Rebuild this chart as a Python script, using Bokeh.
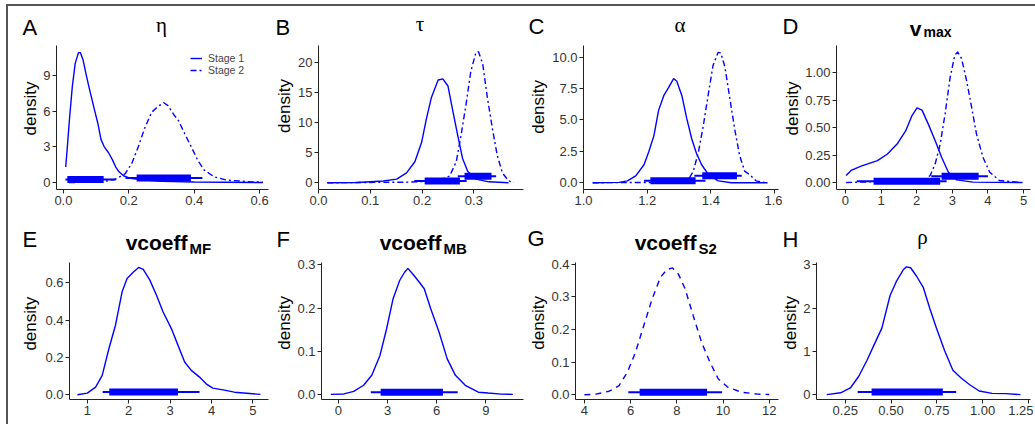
import math
from bokeh.plotting import figure
from bokeh.models import Range1d, FixedTicker, Legend, LegendItem, Div, Spacer
from bokeh.layouts import row, column
from bokeh.embed import file_html
from bokeh.resources import INLINE
from bokeh.core.properties import value

# ---------------- data ----------------
# A: eta
eta_s1_x = [0.007, 0.012, 0.019, 0.027, 0.036, 0.046, 0.052, 0.060, 0.070, 0.080, 0.095, 0.105, 0.115, 0.125,
            0.138, 0.150, 0.160, 0.170, 0.185, 0.205, 0.24, 0.30, 0.40, 0.50, 0.61]
eta_s1_y = [1.3, 3.0, 5.5, 8.0, 10.0, 10.9, 10.9, 10.3, 9.0, 7.8, 6.1, 5.0, 3.6, 3.0,
            2.5, 1.9, 1.3, 0.9, 0.55, 0.35, 0.22, 0.1, 0.04, 0.02, 0.0]
eta_s2_x = [0.017, 0.118, 0.159, 0.189, 0.209, 0.229, 0.249, 0.270, 0.290, 0.307, 0.320, 0.340, 0.350,
            0.371, 0.391, 0.411, 0.431, 0.462, 0.50, 0.573, 0.61]
eta_s2_y = [0.0, 0.05, 0.28, 0.75, 1.6, 3.0, 4.6, 5.9, 6.4, 6.7, 6.45, 5.6, 5.3,
            4.1, 3.0, 1.86, 1.03, 0.47, 0.2, 0.06, 0.03]
# B: tau
tau_s1_x = [0.017, 0.075, 0.125, 0.151, 0.170, 0.186, 0.199, 0.208, 0.218, 0.231, 0.240, 0.250, 0.259,
            0.269, 0.278, 0.288, 0.304, 0.329, 0.367]
tau_s1_y = [0.0, 0.05, 0.3, 0.6, 1.65, 3.5, 6.7, 10.5, 14.2, 17.1, 17.3, 16.1, 12.1,
            7.8, 4.1, 1.9, 0.6, 0.16, 0.0]
tau_s2_x = [0.017, 0.17, 0.227, 0.253, 0.266, 0.275, 0.285, 0.294, 0.304, 0.309, 0.317, 0.326, 0.336,
            0.345, 0.355, 0.367, 0.377]
tau_s2_y = [0.0, 0.1, 0.3, 1.1, 3.5, 7.8, 13.1, 18.5, 21.7, 21.8, 19.8, 14.2, 8.9,
            4.6, 1.66, 0.32, 0.05]
# C: alpha
alpha_s1_x = [1.029, 1.112, 1.138, 1.164, 1.19, 1.205, 1.221, 1.236, 1.252, 1.267, 1.283, 1.293, 1.309,
              1.324, 1.340, 1.355, 1.371, 1.392, 1.423, 1.464, 1.578]
alpha_s1_y = [0.0, 0.03, 0.15, 0.54, 1.43, 2.46, 3.73, 5.78, 6.93, 7.57, 8.29, 8.08, 6.93,
              5.14, 3.48, 2.33, 1.43, 0.66, 0.15, 0.0, 0.0]
alpha_s2_x = [1.029, 1.30, 1.33, 1.345, 1.361, 1.376, 1.392, 1.407, 1.423, 1.431, 1.444, 1.459, 1.475,
              1.49, 1.506, 1.521, 1.542, 1.568]
alpha_s2_y = [0.0, 0.03, 0.28, 0.92, 2.46, 4.5, 7.06, 9.36, 10.38, 10.33, 9.23, 6.8, 4.25,
              2.2, 0.92, 0.66, 0.15, 0.03]
# D: v_max
vmax_s1_x = [0.02, 0.16, 0.44, 0.90, 1.18, 1.45, 1.69, 1.87, 2.01, 2.15, 2.33, 2.52, 2.70,
             2.89, 3.12, 3.58, 4.97]
vmax_s1_y = [0.064, 0.11, 0.149, 0.2, 0.26, 0.35, 0.47, 0.61, 0.68, 0.66, 0.53, 0.38, 0.23,
             0.094, 0.024, 0.003, 0.0]
vmax_s2_x = [0.02, 2.19, 2.38, 2.52, 2.66, 2.80, 2.94, 3.07, 3.15, 3.26, 3.40, 3.54, 3.68,
             3.86, 4.05, 4.32, 4.93]
vmax_s2_y = [0.0, 0.018, 0.064, 0.17, 0.35, 0.63, 0.96, 1.16, 1.19, 1.13, 0.93, 0.69, 0.44,
             0.23, 0.094, 0.018, 0.0]
# E: vcoeff_MF
vmf_x = [0.76, 1.0, 1.2, 1.36, 1.52, 1.68, 1.84, 1.96, 2.12, 2.24, 2.35, 2.51, 2.67, 2.83, 3.03,
         3.19, 3.35, 3.51, 3.71, 3.87, 4.03, 4.31, 4.55, 5.18]
vmf_y = [0.0, 0.009, 0.041, 0.104, 0.247, 0.373, 0.552, 0.624, 0.66, 0.683, 0.672, 0.615, 0.534,
         0.444, 0.355, 0.265, 0.176, 0.131, 0.095, 0.059, 0.036, 0.025, 0.014, 0.002]
# F: vcoeff_MB
vmb_x = [-0.46, 0.34, 0.94, 1.54, 2.04, 2.54, 2.94, 3.34, 3.74, 4.04, 4.24, 4.54, 4.94, 5.24,
         5.64, 6.14, 6.64, 7.14, 7.74, 8.54, 9.14, 9.94, 10.64]
vmb_y = [0.001, 0.002, 0.008, 0.022, 0.045, 0.091, 0.152, 0.222, 0.264, 0.283, 0.292, 0.279, 0.26,
         0.245, 0.198, 0.145, 0.083, 0.045, 0.022, 0.006, 0.004, 0.0015, 0.001]
# G: vcoeff_S2
vs2_x = [4.0, 4.5, 5.07, 5.5, 5.86, 6.21, 6.57, 6.93, 7.29, 7.57, 7.81, 8.07, 8.36, 8.71,
         9.07, 9.43, 9.79, 10.21, 10.79, 11.5, 12.0]
vs2_y = [0.0, 0.002, 0.011, 0.028, 0.069, 0.13, 0.212, 0.293, 0.359, 0.383, 0.388, 0.369, 0.324,
         0.242, 0.161, 0.1, 0.049, 0.023, 0.008, 0.002, 0.001]
# H: rho
rho_x = [0.149, 0.225, 0.278, 0.324, 0.369, 0.405, 0.450, 0.495, 0.531, 0.568, 0.585, 0.607, 0.639,
         0.676, 0.712, 0.748, 0.793, 0.838, 0.883, 0.928, 0.982, 1.052, 1.127, 1.207]
rho_y = [0.007, 0.05, 0.16, 0.43, 0.8, 1.13, 1.54, 2.29, 2.63, 2.89, 2.95, 2.93, 2.74,
         2.48, 1.99, 1.54, 1.02, 0.57, 0.39, 0.24, 0.09, 0.037, 0.03, 0.007]

# credible intervals: [thin_lo, thick_lo, thick_hi, thin_hi, level]
eta_s1_int = [0.006, 0.012, 0.123, 0.16, 0.25]
eta_s2_int = [0.19, 0.224, 0.39, 0.425, 0.38]
tau_s1_int = [0.185, 0.205, 0.273, 0.286, 0.3]
tau_s2_int = [0.269, 0.282, 0.334, 0.343, 1.1]
alpha_s1_int = [1.19, 1.21, 1.352, 1.383, 0.15]
alpha_s2_int = [1.348, 1.373, 1.482, 1.497, 0.55]
vmax_s1_int = [0.32, 0.79, 2.66, 2.84, 0.012]
vmax_s2_int = [2.41, 2.70, 3.74, 4.0, 0.057]
vmf_int = [1.37, 1.53, 3.19, 3.71, 0.015]
vmb_int = [1.98, 2.58, 6.38, 7.28, 0.006]
vs2_int = [5.9, 6.39, 9.31, 9.96, 0.008]
rho_int = [0.318, 0.394, 0.783, 0.856, 0.067]

# tick values and labels
eta_xt, eta_xl = [0, 0.2, 0.4, 0.6], ["0.0", "0.2", "0.4", "0.6"]
eta_yt, eta_yl = [0, 3, 6, 9], ["0", "3", "6", "9"]
tau_xt, tau_xl = [0, 0.1, 0.2, 0.3], ["0.0", "0.1", "0.2", "0.3"]
tau_yt, tau_yl = [0, 5, 10, 15, 20], ["0", "5", "10", "15", "20"]
alpha_xt, alpha_xl = [1.0, 1.2, 1.4, 1.6], ["1.0", "1.2", "1.4", "1.6"]
alpha_yt, alpha_yl = [0, 2.5, 5, 7.5, 10], ["0.0", "2.5", "5.0", "7.5", "10.0"]
vmax_xt, vmax_xl = [0, 1, 2, 3, 4, 5], ["0", "1", "2", "3", "4", "5"]
vmax_yt, vmax_yl = [0, 0.25, 0.5, 0.75, 1.0], ["0.00", "0.25", "0.50", "0.75", "1.00"]
vmf_xt, vmf_xl = [1, 2, 3, 4, 5], ["1", "2", "3", "4", "5"]
vmf_yt, vmf_yl = [0, 0.2, 0.4, 0.6], ["0.0", "0.2", "0.4", "0.6"]
vmb_xt, vmb_xl = [0, 3, 6, 9], ["0", "3", "6", "9"]
vmb_yt, vmb_yl = [0, 0.1, 0.2, 0.3], ["0.0", "0.1", "0.2", "0.3"]
vs2_xt, vs2_xl = [4, 6, 8, 10, 12], ["4", "6", "8", "10", "12"]
vs2_yt, vs2_yl = [0, 0.1, 0.2, 0.3, 0.4], ["0.0", "0.1", "0.2", "0.3", "0.4"]
rho_xt, rho_xl = [0.25, 0.5, 0.75, 1.0, 1.25], ["0.25", "0.50", "0.75", "1.00", "1.25"]
rho_yt, rho_yl = [0, 1, 2, 3], ["0", "1", "2", "3"]

legend_labels = ["Stage 1", "Stage 2"]
y_label = "density"

# ---------------- layout / style ----------------
BLUE = "#0000FF"
SANS = "Liberation Sans"
SERIF = "Liberation Serif"
# half of (ascent - descent), in em: distance from the middle of the text box to the baseline
MID_TO_BASE = {SANS: 0.3465, SERIF: 0.3375}
GX0, GX1 = 8, 1033
STRIPS = [(6, 39), (215, 256)]
ROWS = [(39, 215), (256, 424)]

# cell: (cell_left, vstrip_right, cell_right)
# sub titles: ("sub", main, subscript, junction_x, main_baseline, sub_baseline, sub_size)
specs = [
    dict(letter="A", cell=(8, 40, 272), rw=0, frame=(54, 268, 44, 189), xa=(0, 61, 330), ya=(182, 12),
         curves=[(eta_s1_x, eta_s1_y, "solid"), (eta_s2_x, eta_s2_y, "dotdash")],
         ints=[eta_s1_int, eta_s2_int], ticks=(eta_xt, eta_xl, eta_yt, eta_yl),
         title=("greek", "η", 32), lpos=(22, 35), dens=(30, 116), legend=True),
    dict(letter="B", cell=(272, 295, 526), rw=0, frame=(316, 523, 39, 189), xa=(0, 316, 523), ya=(182, 6.26),
         curves=[(tau_s1_x, tau_s1_y, "solid"), (tau_s2_x, tau_s2_y, "dotdash")],
         ints=[tau_s1_int, tau_s2_int], ticks=(tau_xt, tau_xl, tau_yt, tau_yl),
         title=("greek", "τ", 31), lpos=(275, 35), dens=(284, 113), legend=False),
    dict(letter="C", cell=(526, 549, 782), rw=0, frame=(581, 778, 40, 189), xa=(1.0, 581, 321.7), ya=(182, 13),
         curves=[(alpha_s1_x, alpha_s1_y, "solid"), (alpha_s2_x, alpha_s2_y, "dotdash")],
         ints=[alpha_s1_int, alpha_s2_int], ticks=(alpha_xt, alpha_xl, alpha_yt, alpha_yl),
         title=("greek", "α", 32), lpos=(528, 34), dens=(538, 114), legend=False),
    dict(letter="D", cell=(782, 802, 1033), rw=0, frame=(834, 1030, 45, 189), xa=(0, 843, 36), ya=(182, 109.7),
         curves=[(vmax_s1_x, vmax_s1_y, "solid"), (vmax_s2_x, vmax_s2_y, "dotdash")],
         ints=[vmax_s1_int, vmax_s2_int], ticks=(vmax_xt, vmax_xl, vmax_yt, vmax_yl),
         title=("sub", "v", "max", 921, 35, 36, 14), lpos=(782, 34), dens=(792, 116), legend=False),
    dict(letter="E", cell=(8, 42, 272), rw=1, frame=(67, 268, 262, 399), xa=(1, 85, 41.83), ya=(394.3, 186.5),
         curves=[(vmf_x, vmf_y, "solid")], ints=[vmf_int], ticks=(vmf_xt, vmf_xl, vmf_yt, vmf_yl),
         title=("sub", "vcoeff", "MF", 187, 249, 253, 15), lpos=(22, 247), dens=(30, 331), legend=False),
    dict(letter="F", cell=(272, 294, 526), rw=1, frame=(319, 523, 262, 399), xa=(0, 336, 16.56), ya=(394.3, 433),
         curves=[(vmb_x, vmb_y, "solid")], ints=[vmb_int], ticks=(vmb_xt, vmb_xl, vmb_yt, vmb_yl),
         title=("sub", "vcoeff", "MB", 441, 249, 253, 15), lpos=(276, 247), dens=(284, 330), legend=False),
    dict(letter="G", cell=(526, 548, 782), rw=1, frame=(573, 778, 262, 399), xa=(4, 582, 23.33), ya=(394.3, 327),
         curves=[(vs2_x, vs2_y, "dashed")], ints=[vs2_int], ticks=(vs2_xt, vs2_xl, vs2_yt, vs2_yl),
         title=("sub", "vcoeff", "S2", 696, 249, 253, 15), lpos=(527, 246), dens=(538, 330), legend=False),
    dict(letter="H", cell=(782, 800, 1033), rw=1, frame=(814, 1030, 258, 399), xa=(0.25, 843, 184.8),
         ya=(394.3, 44.67),
         curves=[(rho_x, rho_y, "solid")], ints=[rho_int], ticks=(rho_xt, rho_xl, rho_yt, rho_yl),
         title=("greek", "ρ", 244), lpos=(782, 247), dens=(790, 330), legend=False),
]

DASH = {"solid": "solid", "dotdash": "6 3 2 3", "dashed": "6 5"}


def text_fig(x0, x1, y0, y1):
    """A bare figure whose data coordinates are page pixels (y pointing down)."""
    s = figure(width=x1 - x0, height=y1 - y0, min_border=0,
               x_range=Range1d(x0, x1), y_range=Range1d(y1, y0),
               x_axis_location=None, y_axis_location=None, title_location=None,
               output_backend="svg", toolbar_location=None, tools="")
    s.grid.visible = False
    s.outline_line_color = None
    return s


def put(p, x, y, text, size, font=SANS, style="normal", align="left", base=True, angle=0.0):
    # base=True: y is the alphabetic baseline; converted to the middle of the text box
    yy = y - MID_TO_BASE[font] * size if base else y
    p.text(x=[x], y=[yy], text=[text], text_font=value(font), text_font_size=value(f"{size}px"),
           text_font_style=value(style), text_align=value(align), text_baseline=value("middle"),
           angle=angle, text_color="black")


def build(s):
    fl, fr, ft, fb = s["frame"]
    cl, vr, cr = s["cell"]
    rt, rb = ROWS[s["rw"]]
    xv, xp, xppu = s["xa"]
    yp, yppu = s["ya"]
    p = figure(width=cr - vr, height=rb - rt,
               min_border_left=fl - vr, min_border_right=cr - fr,
               min_border_top=ft - rt, min_border_bottom=rb - fb,
               x_range=Range1d(xv - (xp - fl) / xppu, xv + (fr - xp) / xppu),
               y_range=Range1d(-(fb - yp) / yppu, (yp - ft) / yppu),
               title_location=None,
               output_backend="svg", toolbar_location=None, tools="")
    p.grid.visible = False
    p.outline_line_color = None
    xt, xl, yt, yl = s["ticks"]
    for ax, t, l in ((p.xaxis[0], xt, xl), (p.yaxis[0], yt, yl)):
        ax.ticker = FixedTicker(ticks=t)
        ax.major_label_overrides = {tv: lv for tv, lv in zip(t, l)}
        ax.axis_line_color = "#222222"
        ax.axis_line_width = 1
        ax.major_tick_line_color = "#222222"
        ax.major_tick_out = 4
        ax.major_tick_in = 0
        ax.minor_tick_out = 0
        ax.minor_tick_in = 0
        ax.major_label_standoff = 2
        ax.major_label_text_font = SANS
        ax.major_label_text_font_size = "13px"
        ax.major_label_text_color = "#333333"
    rends = []
    for (cx, cy, style) in s["curves"]:
        r = p.line(cx, cy, line_color=BLUE, line_width=1.4, line_dash=DASH[style])
        rends.append(r)
    for iv in s["ints"]:
        lo95, lo66, hi66, hi95, lev = iv
        p.segment(x0=[lo95], x1=[hi95], y0=[lev], y1=[lev], line_color=BLUE, line_width=2)
        p.segment(x0=[lo66], x1=[hi66], y0=[lev], y1=[lev], line_color=BLUE, line_width=7,
                  line_cap="butt")
    if s["legend"]:
        lg = Legend(items=[LegendItem(label=legend_labels[i], renderers=[rends[i]]) for i in range(2)],
                    location=(188 - fl, fb - 76), orientation="vertical",
                    border_line_color=None, background_fill_alpha=0, padding=0, spacing=0, margin=0,
                    glyph_width=12, glyph_height=10, label_height=10, label_standoff=6,
                    label_text_font=SANS, label_text_font_size="10.5px")
        p.add_layout(lg)

    # vertical strip holding the y-axis title
    v = text_fig(cl, vr, rt, rb)
    put(v, s["dens"][0], s["dens"][1], y_label, 17, align="center", base=False, angle=math.pi / 2)
    return v, p


strips = [text_fig(GX0, GX1, *STRIPS[0]), text_fig(GX0, GX1, *STRIPS[1])]
for s in specs:
    st = strips[s["rw"]]
    fl, fr, ft, fb = s["frame"]
    put(st, s["lpos"][0], s["lpos"][1], s["letter"], 22)
    t = s["title"]
    if t[0] == "greek":
        put(st, (fl + fr) / 2, t[2], t[1], 21, font=SERIF, align="center")
    else:
        put(st, t[3], t[4], t[1], 21, style="bold", align="right")
        put(st, t[3] + 2, t[5], t[2], t[6], style="bold", align="left")

parts = [build(s) for s in specs]
row1 = row(*[m for pr in parts[:4] for m in pr])
row2 = row(*[m for pr in parts[4:] for m in pr])
grid = column(strips[0], row1, strips[1], row2)
grid_h = ROWS[1][1] - STRIPS[0][0]
top_line = row(Spacer(width=6, height=2), Div(text="", width=1029, height=2, margin=0,
                                               styles={"background-color": "#555555"}))
body = row(Spacer(width=6, height=grid_h),
           Div(text="", width=2, height=grid_h, margin=0, styles={"background-color": "#555555"}),
           grid)
layout = column(Spacer(width=10, height=4), top_line, body)

open("out.html", "w").write(file_html(layout, INLINE))
